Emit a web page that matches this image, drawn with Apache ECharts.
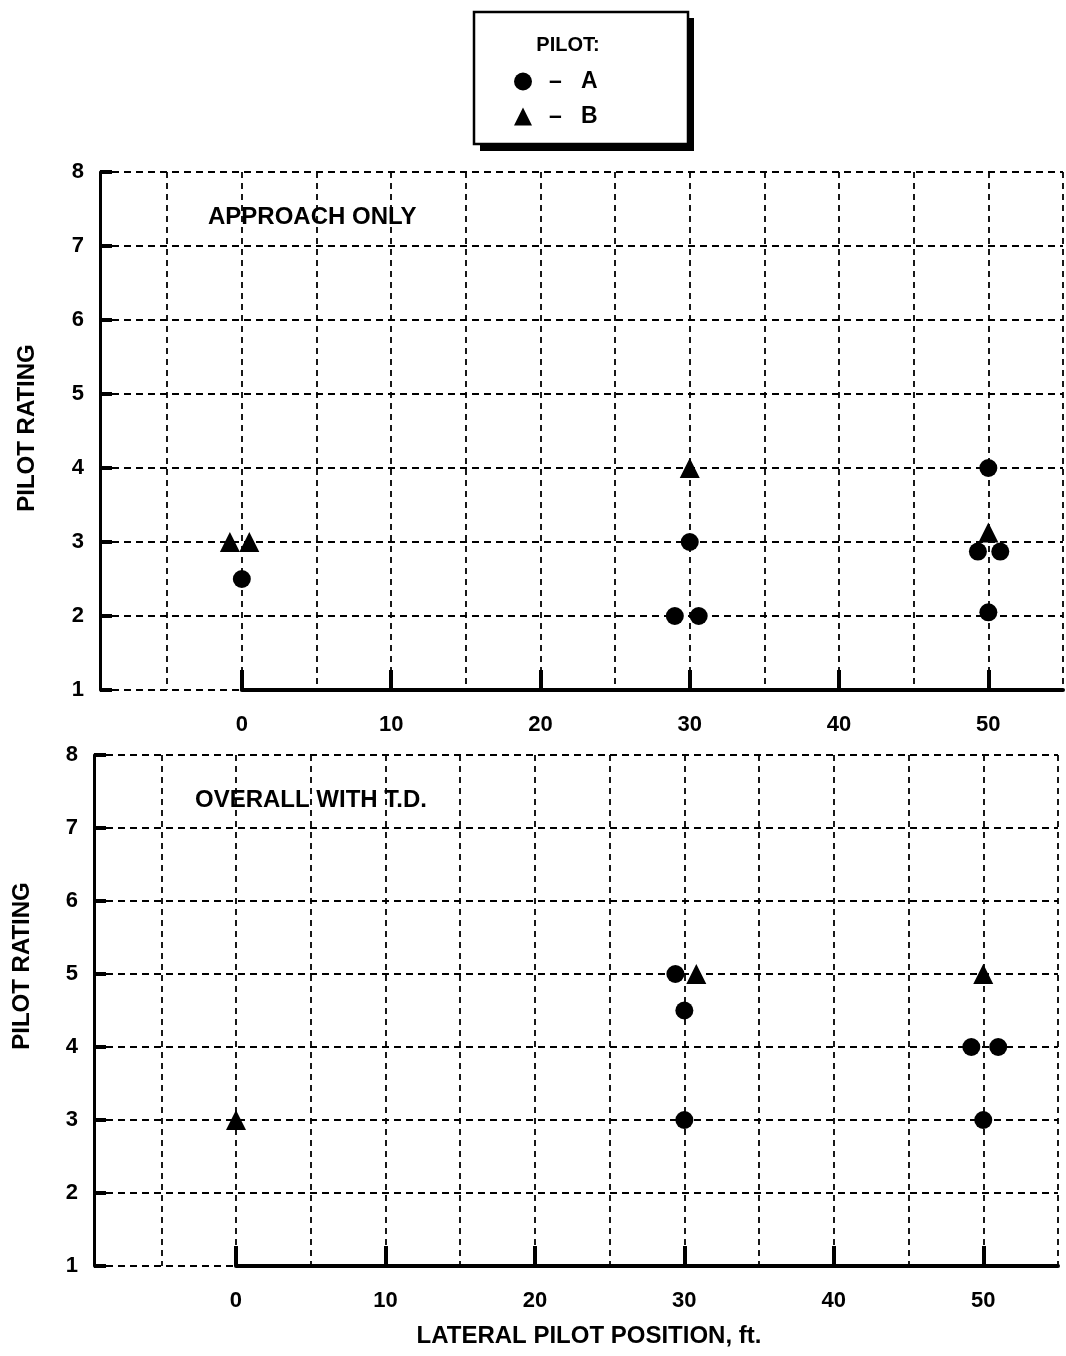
<!DOCTYPE html>
<html>
<head>
<meta charset="utf-8">
<script src="https://cdn.jsdelivr.net/npm/echarts@6/dist/echarts.min.js"></script>
<style>
  html, body { margin: 0; padding: 0; background: #fff; }
  #chart { width: 1066px; height: 1356px; }
</style>
</head>
<body>
<div id="chart"></div>
<script>
// 上图 APPROACH ONLY
var approachA_x = [0, 30, 29, 30.6, 50, 49.3, 50.8, 50]
var approachA_y = [2.5, 3.0, 2.0, 2.0, 4.0, 2.87, 2.87, 2.05]
var approachB_x = [-0.8, 0.5, 30, 50]
var approachB_y = [3.0, 3.0, 4.0, 3.13]
// 下图 OVERALL WITH T.D.
var overallA_x = [29.4, 30, 30, 49.2, 51, 50]
var overallA_y = [5.0, 4.5, 3.0, 4.0, 4.0, 3.0]
var overallB_x = [0, 30.8, 50]
var overallB_y = [3.0, 5.0, 5.0]
// 坐标轴
var xTickLabels = [0, 10, 20, 30, 40, 50]
var yTickLabels = [1, 2, 3, 4, 5, 6, 7, 8]
var panelTitles = ['APPROACH ONLY', 'OVERALL WITH T.D.']
var pilotNames = ['A', 'B']

var X_MIN = -9.5, X_MAX = 55
var FONT = '"Liberation Sans", Arial, sans-serif'

function pairs(xs, ys) {
  var out = []
  for (var i = 0; i < xs.length; i++) out.push([xs[i], ys[i]])
  return out
}

// 每个面板: 主网格 + 从 0 开始的覆盖网格(粗轴线与刻度)
var panels = [
  {left: 100, right: 3, top: 172, bottom: 666, A: pairs(approachA_x, approachA_y), B: pairs(approachB_x, approachB_y)},
  {left: 94, right: 8, top: 755, bottom: 90, A: pairs(overallA_x, overallA_y), B: pairs(overallB_x, overallB_y)}
]

var grids = [], xAxes = [], yAxes = [], series = []
panels.forEach(function (p, k) {
  var width = 1066 - p.left - p.right
  var zeroLeft = p.left + (0 - X_MIN) / (X_MAX - X_MIN) * width
  grids.push({left: p.left, right: p.right, top: p.top, bottom: p.bottom})
  grids.push({left: zeroLeft, right: p.right, top: p.top, bottom: p.bottom})
  var gMain = k * 2, gOver = k * 2 + 1
  xAxes.push({
    type: 'value', gridIndex: gMain, min: X_MIN, max: X_MAX,
    splitNumber: 13, minInterval: 5, maxInterval: 5,
    axisLine: {show: false}, axisTick: {show: false},
    axisLabel: {
      showMinLabel: false, margin: 24, color: '#000', fontSize: 22, fontWeight: 'bold', fontFamily: FONT,
      formatter: function (v) { return xTickLabels.indexOf(v) >= 0 ? String(v) : '' }
    },
    splitLine: {show: true, lineStyle: {color: '#000', width: 1.8, type: [6, 5]}}
  })
  xAxes.push({
    type: 'value', gridIndex: gOver, min: 0, max: X_MAX,
    axisLine: {show: true, onZero: false, lineStyle: {color: '#000', width: 4}},
    axisTick: {show: true, inside: true, length: 20, customValues: xTickLabels, lineStyle: {color: '#000', width: 4}},
    axisLabel: {show: false}, splitLine: {show: false}
  })
  yAxes.push({
    type: 'value', gridIndex: gMain, min: 1, max: 8, interval: 1,
    axisLine: {show: true, onZero: false, lineStyle: {color: '#000', width: 3}},
    axisTick: {show: true, inside: true, length: 12, lineStyle: {color: '#000', width: 4}},
    axisLabel: {
      margin: 16, color: '#000', fontSize: 22, fontWeight: 'bold', fontFamily: FONT,
      formatter: function (v) { return yTickLabels.indexOf(v) >= 0 ? String(v) : '' }
    },
    splitLine: {show: true, lineStyle: {color: '#000', width: 2, type: [7, 5]}}
  })
  yAxes.push({type: 'value', gridIndex: gOver, min: 1, max: 8, show: false})
  series.push({
    name: pilotNames[0], type: 'scatter', xAxisIndex: gMain, yAxisIndex: gMain,
    symbol: 'circle', symbolSize: 18, itemStyle: {color: '#000', opacity: 1}, data: p.A, z: 5
  })
  series.push({
    name: pilotNames[1], type: 'scatter', xAxisIndex: gMain, yAxisIndex: gMain,
    symbol: 'triangle', symbolSize: 20, itemStyle: {color: '#000', opacity: 1}, data: p.B, z: 5
  })
})

var textStyle = {fill: '#000', fontSize: 24, fontWeight: 'bold', fontFamily: FONT}
function txt(str, x, y, align, rot, size) {
  var st = Object.assign({text: str, align: align || 'left', verticalAlign: 'middle'}, textStyle)
  if (size) st.fontSize = size
  return {type: 'text', x: x, y: y, rotation: rot || 0, z: 10, style: st}
}

var chart = echarts.init(document.getElementById('chart'))
chart.setOption({
  animation: false,
  backgroundColor: '#fff',
  grid: grids,
  xAxis: xAxes,
  yAxis: yAxes,
  series: series,
  legend: {
    orient: 'vertical', left: 509, top: 65, itemWidth: 18, itemHeight: 18, itemGap: 12,
    data: [{name: 'A', icon: 'circle'}, {name: 'B', icon: 'triangle'}],
    formatter: function (name) { return '–   ' + name },
    textStyle: {color: '#000', fontSize: 23, fontWeight: 'bold', fontFamily: FONT, padding: [0, 0, 0, 12]},
    itemStyle: {opacity: 1, color: '#000'},
    selectedMode: false, z: 20
  },
  graphic: [
    /* 图例框 */
    {type: 'rect', shape: {x: 480, y: 18, width: 214, height: 133}, style: {fill: '#000'}, z: 1},
    {type: 'rect', shape: {x: 474, y: 12, width: 214, height: 132}, style: {fill: '#fff', stroke: '#000', lineWidth: 2.5}, z: 2},
    txt('PILOT:', 568, 45, 'center', 0, 20),
    txt(panelTitles[0], 208, 217),
    txt(panelTitles[1], 195, 800),
    txt('PILOT RATING', 27, 428, 'center', Math.PI / 2),
    txt('PILOT RATING', 22, 966, 'center', Math.PI / 2),
    txt('LATERAL PILOT POSITION, ft.', 589, 1336, 'center')
  ]
})
</script>
</body>
</html>
